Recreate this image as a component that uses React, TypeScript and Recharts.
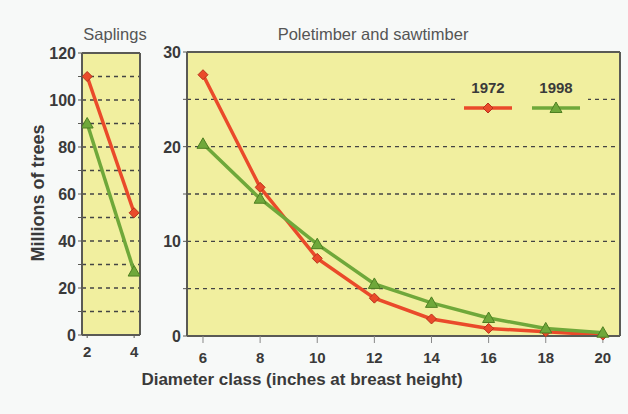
import React from "react";
import { LineChart, Line, XAxis, YAxis, CartesianGrid, ReferenceLine } from "recharts";

const saplingClasses = [2, 4];
const saplings1972 = [110, 52];
const saplings1998 = [90, 27];

const timberClasses = [6, 8, 10, 12, 14, 16, 18, 20];
const timber1972 = [27.6, 15.7, 8.2, 4.0, 1.8, 0.8, 0.45, 0.1];
const timber1998 = [20.3, 14.5, 9.7, 5.5, 3.5, 1.9, 0.8, 0.35];

const saplingTicks = [0, 10, 20, 30, 40, 50, 60, 70, 80, 90, 100, 110, 120];
const timberTicks = [0, 5, 10, 15, 20, 25, 30];

// x domains run a little past the first/last class so the markers sit inside the frame
const saplingDomain: [number, number] = [1.78, 4.25];
const timberDomain: [number, number] = [5.44, 20.6];

const RED = "#ea4a2a";
const GREEN = "#6fa83a";
const PLOT_BG = "#f1ef9f";
const FRAME = "#5a5a55";
const TEXT = "#3a3a3a";
const FONT = "'Liberation Sans', Arial, sans-serif";

const saplingData = saplingClasses.map((d, i) => ({ d, y72: saplings1972[i], y98: saplings1998[i] }));
const timberData = timberClasses.map((d, i) => ({ d, y72: timber1972[i], y98: timber1998[i] }));

const Diamond = (props: any) => {
  const { cx, cy } = props;
  if (cx == null || cy == null) return null;
  const r = 5;
  return (
    <path
      d={`M${cx},${cy - r}L${cx + r},${cy}L${cx},${cy + r}L${cx - r},${cy}Z`}
      fill={RED}
      stroke="#b8321c"
      strokeWidth={1}
    />
  );
};

const Triangle = (props: any) => {
  const { cx, cy } = props;
  if (cx == null || cy == null) return null;
  const r = 6;
  return (
    <path
      d={`M${cx},${cy - r}L${cx + r},${cy + r * 0.75}L${cx - r},${cy + r * 0.75}Z`}
      fill={GREEN}
      stroke="#4e7f22"
      strokeWidth={1}
    />
  );
};

const yTick = (step: number) => (props: any) => {
  const { x, y, payload } = props;
  if (payload.value % step !== 0) return null;
  return (
    <text x={x} y={y} dy={6} textAnchor="end" fontSize={16} fontWeight={700} fill={TEXT} fontFamily={FONT}>
      {payload.value}
    </text>
  );
};

const xTick = (dy: number) => (props: any) => {
  const { x, y, payload } = props;
  return (
    <text x={x} y={y} dy={dy} textAnchor="middle" fontSize={15} fontWeight={700} fill={TEXT} fontFamily={FONT}>
      {payload.value}
    </text>
  );
};

const legendItems = [
  { label: "1972", color: RED, Dot: Diamond },
  { label: "1998", color: GREEN, Dot: Triangle },
];

const LegendBox = () => (
  <div style={{ position: "absolute", left: 456, top: 76, width: 132, height: 40, background: PLOT_BG }}>
    {legendItems.map(({ label, color, Dot }, i) => (
      <div key={label} style={{ position: "absolute", left: 7 + i * 68, top: 3, width: 50, textAlign: "center" }}>
        <div style={{ fontSize: 15, fontWeight: 700, color: TEXT, lineHeight: "18px" }}>{label}</div>
        <svg width={50} height={16} style={{ display: "block", marginTop: 3 }}>
          <line x1={1} y1={8} x2={49} y2={8} stroke={color} strokeWidth={3.5} />
          <Dot cx={25} cy={8} />
        </svg>
      </div>
    ))}
  </div>
);

export default function App() {
  return (
    <div style={{ position: "fixed", left: 0, top: 0, width: 628, height: 414, background: "#f7f9f8", fontFamily: FONT }}>
      <div style={{ position: "absolute", left: 70, top: 25, width: 90, textAlign: "center", fontSize: 16.5, color: "#555" }}>
        Saplings
      </div>
      <div style={{ position: "absolute", left: 173, top: 25, width: 400, textAlign: "center", fontSize: 16.5, color: "#555" }}>
        Poletimber and sawtimber
      </div>
      <div
        style={{
          position: "absolute",
          left: 38,
          top: 193,
          transform: "translate(-50%, -50%) rotate(-90deg)",
          whiteSpace: "nowrap",
          fontSize: 18,
          fontWeight: 700,
          color: TEXT,
        }}
      >
        Millions of trees
      </div>
      <div style={{ position: "absolute", left: 100, top: 370, width: 404, textAlign: "center", fontSize: 17, fontWeight: 700, color: TEXT }}>
        Diameter class (inches at breast height)
      </div>

      <div style={{ position: "absolute", left: 0, top: 0 }}>
        <LineChart width={150} height={414} data={saplingData} margin={{ top: 53, right: 10, bottom: 49, left: 42 }}>
          <CartesianGrid vertical={false} fill={PLOT_BG} stroke="#444" strokeDasharray="4 4" strokeWidth={1.3} />
          <XAxis
            dataKey="d"
            type="number"
            domain={saplingDomain}
            allowDataOverflow
            ticks={saplingClasses}
            height={30}
            axisLine={{ stroke: FRAME, strokeWidth: 2 }}
            tickLine={{ stroke: FRAME }}
            tickSize={3}
            tick={xTick(17)}
          />
          <YAxis
            type="number"
            domain={[0, 120]}
            ticks={saplingTicks}
            width={40}
            axisLine={{ stroke: FRAME, strokeWidth: 2 }}
            tickLine={{ stroke: FRAME }}
            tickSize={4}
            tick={yTick(20)}
          />
          <ReferenceLine y={120} stroke={FRAME} strokeWidth={2} />
          <ReferenceLine x={saplingDomain[1]} stroke={FRAME} strokeWidth={2} />
          <Line dataKey="y72" stroke={RED} strokeWidth={3.5} dot={<Diamond />} isAnimationActive={false} />
          <Line dataKey="y98" stroke={GREEN} strokeWidth={3.5} dot={<Triangle />} isAnimationActive={false} />
        </LineChart>
      </div>

      <div style={{ position: "absolute", left: 150, top: 0 }}>
        <LineChart width={478} height={414} data={timberData} margin={{ top: 52, right: 8, bottom: 53, left: 7 }}>
          <CartesianGrid vertical={false} fill={PLOT_BG} stroke="#444" strokeDasharray="4 4" strokeWidth={1.3} />
          <XAxis
            dataKey="d"
            type="number"
            domain={timberDomain}
            allowDataOverflow
            ticks={timberClasses}
            height={25}
            axisLine={{ stroke: FRAME, strokeWidth: 2 }}
            tickLine={{ stroke: "#888" }}
            tickSize={7}
            tick={xTick(18)}
          />
          <YAxis
            type="number"
            domain={[0, 30]}
            ticks={timberTicks}
            width={30}
            axisLine={{ stroke: FRAME, strokeWidth: 2 }}
            tickLine={{ stroke: FRAME }}
            tickSize={4}
            tick={yTick(10)}
          />
          <ReferenceLine y={30} stroke={FRAME} strokeWidth={2} />
          <ReferenceLine x={timberDomain[1]} stroke={FRAME} strokeWidth={2} />
          <Line dataKey="y72" stroke={RED} strokeWidth={3.5} dot={<Diamond />} isAnimationActive={false} />
          <Line dataKey="y98" stroke={GREEN} strokeWidth={3.5} dot={<Triangle />} isAnimationActive={false} />
        </LineChart>
      </div>

      <LegendBox />
    </div>
  );
}
